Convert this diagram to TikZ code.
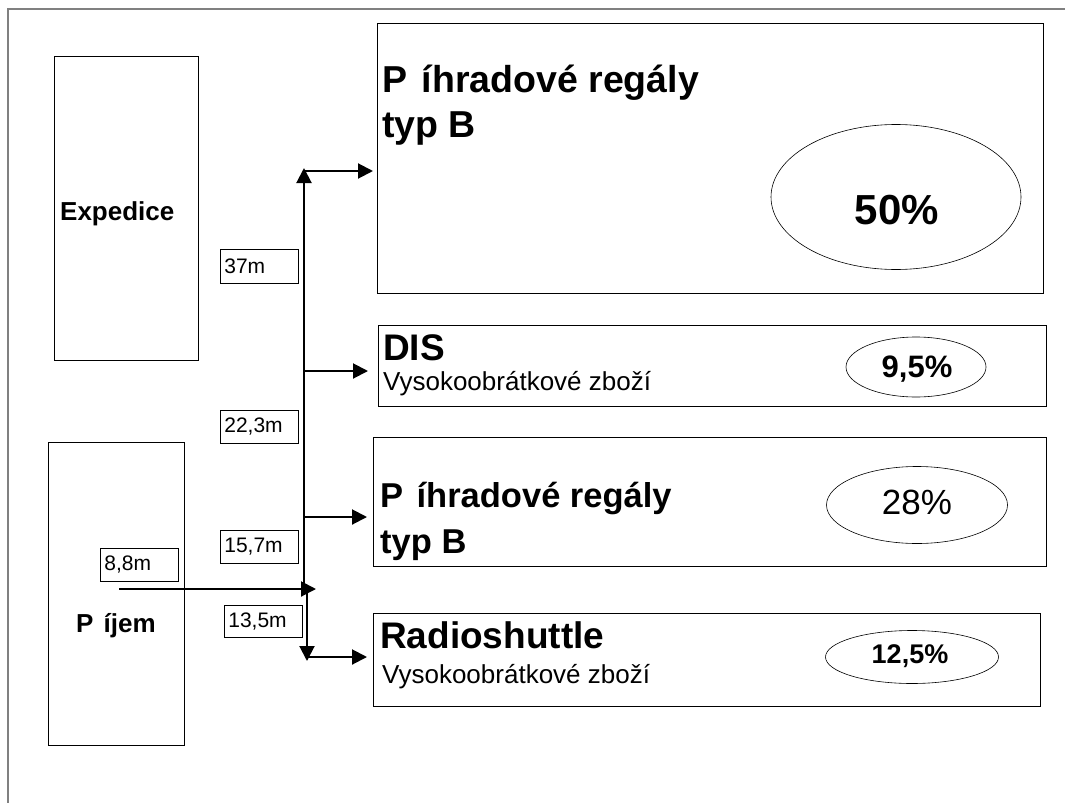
\documentclass[tikz,border=0pt]{standalone}
\usepackage{fontspec}
\setmainfont{Liberation Sans}
\usetikzlibrary{shapes.geometric, arrows.meta, positioning, calc}
\definecolor{framegray}{RGB}{128, 128, 128}

\begin{document}
\begin{tikzpicture}[x=1pt, y=-1pt,
    zone/.style={rectangle, draw, line width=1pt, anchor=north west, inner sep=0pt},
    dist/.style={rectangle, draw, line width=0.7pt, anchor=north west, inner xsep=4pt, inner ysep=0pt,
                 text width=70pt, minimum height=33pt, align=left, font=\fontsize{21}{24}\selectfont},
    share/.style={ellipse, draw, line width=0.6pt, inner sep=0pt},
    heading/.style={anchor=base west, inner sep=0pt, font=\fontsize{37}{42}\selectfont\bfseries},
    note/.style={anchor=base west, inner sep=0pt, font=\fontsize{26}{30}\selectfont},
    pct/.style={anchor=base, inner sep=0pt},
    flow/.style={-{Triangle[length=15pt, width=15pt]}, line width=2pt}]

    \useasboundingbox (0,0) rectangle (1065,803);

    % Frame
    \draw[framegray, line width=2pt] (7,9) -- (1065,9);
    \draw[framegray, line width=2pt] (8,9) -- (8,803);

    % Zones
    \node[zone, minimum width=144pt, minimum height=304pt] (exped) at (54,56) {};
    \node[heading, font=\fontsize{26}{30}\selectfont\bfseries] (expedLbl) at (60,220) {Expedice};
    \node[zone, minimum width=136pt, minimum height=303pt] (prijem) at (48,442) {};
    \node[heading, font=\fontsize{26}{30}\selectfont\bfseries] (prijemLbl) at (76,632) {P\phantom{ř}íjem};

    % Storage
    \node[zone, minimum width=666pt, minimum height=270pt] (regA) at (377,23) {};
    \node[heading, font=\fontsize{37.5}{44}\selectfont\bfseries] (regAt) at (382,92) {P\phantom{ř}íhradové regály};
    \node[heading, font=\fontsize{37.5}{44}\selectfont\bfseries] (regAb) at (382,137) {typ B};
    \node[share, minimum width=250pt, minimum height=145pt] (regAe) at (896,197) {};
    \node[pct, font=\fontsize{42}{46}\selectfont\bfseries] (regAp) at (897,224) {50\%};

    \node[zone, minimum width=668pt, minimum height=81pt] (dis) at (378,325) {};
    \node[heading] (disT) at (383,360) {DIS};
    \node[note] (disN) at (383,390) {Vysokoobrátkové zboží};
    \node[share, minimum width=140pt, minimum height=60pt] (disE) at (916,367) {};
    \node[pct, font=\fontsize{31}{36}\selectfont\bfseries] (disP) at (917,377) {9,5\%};

    \node[zone, minimum width=673pt, minimum height=129pt] (regB) at (373,437) {};
    \node[heading, font=\fontsize{34.5}{42}\selectfont\bfseries] (regBt) at (380,507) {P\phantom{ř}íhradové regály};
    \node[heading, font=\fontsize{34.5}{42}\selectfont\bfseries] (regBb) at (380,553) {typ B};
    \node[share, minimum width=181pt, minimum height=77pt] (regBe) at (917,505) {};
    \node[pct, font=\fontsize{35}{40}\selectfont] (regBp) at (917,514) {28\%};

    \node[zone, minimum width=667pt, minimum height=93pt] (radio) at (373,613) {};
    \node[heading] (radioT) at (380,648) {Radioshuttle};
    \node[note] (radioN) at (382,683) {Vysokoobrátkové zboží};
    \node[share, minimum width=173pt, minimum height=53pt] (radioE) at (912,657) {};
    \node[pct, font=\fontsize{27}{32}\selectfont\bfseries] (radioP) at (910,663) {12,5\%};

    % Distances
    \node[dist, minimum height=34pt] (d37) at (220,249) {37m};
    \node[dist] (d223) at (220,410) {22,3m};
    \node[dist] (d157) at (220,530) {15,7m};
    \node[dist] (d88) at (100,548) {8,8m};
    \node[dist, minimum height=32pt] (d135) at (224,605) {13,5m};

    % Connections
    \coordinate (inlet) at (119,589);
    \coordinate (hub) at (304,589);
    \coordinate (hubTip) at (316,589);
    \coordinate (trunkTop) at (304,168);
    \coordinate (toDis) at (304,371);
    \coordinate (toRegB) at (304,517);
    \coordinate (low) at (307,589);
    \coordinate (lowTip) at (307,661);
    \coordinate (toRadio) at (307,657);

    \draw[flow] (inlet) -- (hubTip);
    \draw[flow] (hub) -- (trunkTop);
    \draw[flow, shorten >=4pt] ($(trunkTop)+(0,3)$) -- ($(trunkTop -| regA.west)+(0,3)$);
    \draw[flow, shorten >=10pt] (toDis) -- (toDis -| dis.west);
    \draw[flow, shorten >=6pt] (toRegB) -- (toRegB -| regB.west);
    \draw[flow] (low) -- (lowTip);
    \draw[flow, shorten >=6pt] (toRadio) -- (toRadio -| radio.west);
\end{tikzpicture}
\end{document}
